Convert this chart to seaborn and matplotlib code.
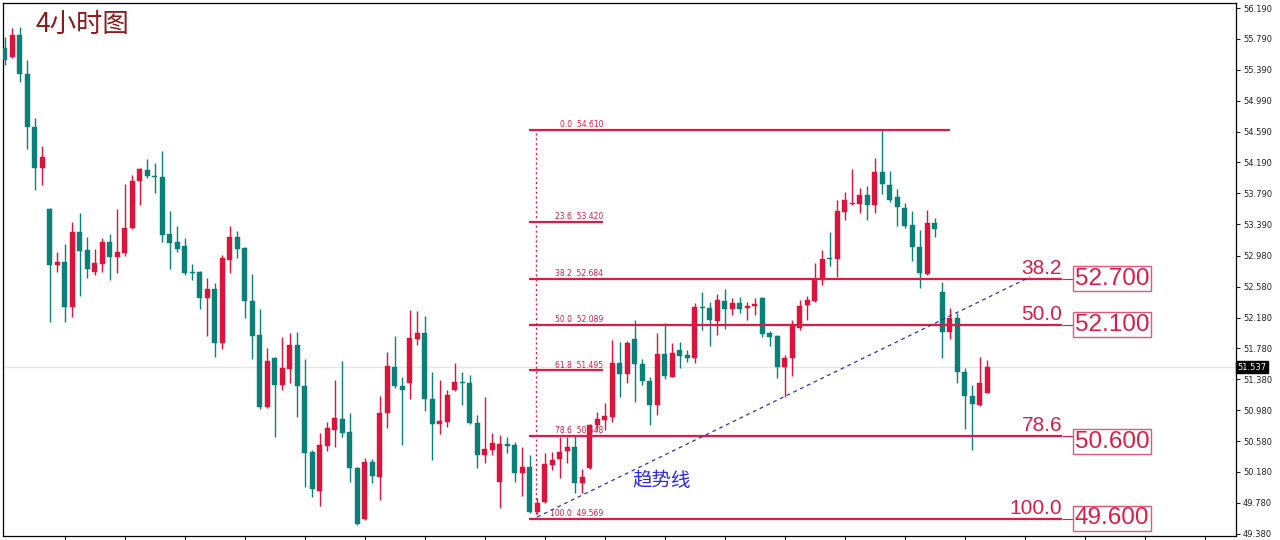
import numpy as np
import pandas as pd
import matplotlib
matplotlib.use("Agg")
import matplotlib.pyplot as plt
import seaborn as sns

sns.set_theme(style="white")
plt.rcParams['font.family'] = ['DejaVu Sans', 'Noto Sans CJK SC']

# ---------------- data (4h candles) ----------------
opens = [55.67,55.56,55.84,55.34,54.65,54.12,53.59,52.86,52.90,52.32,
         53.29,53.06,52.77,52.87,53.16,52.97,53.02,53.34,53.95,54.09,
         54.01,54.00,53.26,53.16,53.11,52.77,52.77,52.43,52.55,51.85,
         52.93,53.22,53.08,52.40,51.95,51.02,51.66,51.31,51.51,51.83,
         51.29,50.44,49.93,50.52,50.72,50.87,50.70,50.23,49.57,50.31,
         50.12,50.94,51.54,51.29,51.33,51.90,51.98,51.13,50.80,50.83,
         51.24,51.35,51.33,50.82,50.40,50.47,50.05,50.54,50.53,50.17,
         50.25,49.66,49.79,50.27,50.35,50.45,50.50,50.04,50.23,50.79,
         50.85,50.89,51.59,51.45,51.90,51.58,51.36,51.05,51.71,51.41,
         51.76,51.70,51.66,52.32,52.30,52.14,52.40,52.29,52.37,52.30,
         52.33,52.43,51.98,51.94,51.54,51.66,52.05,52.34,52.40,52.67,
         52.95,52.94,53.55,53.65,53.65,53.77,53.64,54.07,53.90,53.74,
         53.60,53.38,53.10,52.75,53.41,52.51,51.99,52.18,51.48,51.17,
         51.05,51.20]
highs = [55.82,55.93,55.94,55.52,54.77,54.40,53.60,53.03,53.13,53.42,
         53.54,53.22,53.07,53.21,53.26,53.59,53.91,54.03,54.12,54.24,
         54.18,54.34,53.56,53.37,53.21,52.87,52.78,52.69,52.63,52.99,
         53.37,53.30,53.09,52.75,52.29,51.79,51.67,51.93,51.98,51.99,
         51.64,50.47,50.69,50.83,51.37,51.62,50.94,50.24,50.36,50.35,
         51.17,51.73,51.94,51.41,52.28,52.27,52.20,51.48,51.37,51.24,
         51.59,51.48,51.44,50.92,51.15,50.69,50.66,50.63,50.57,50.50,
         50.40,49.84,50.43,50.44,50.63,50.63,50.65,50.22,50.80,50.96,
         51.07,51.89,51.86,51.88,52.15,51.64,51.41,51.98,52.11,51.85,
         51.86,51.76,52.37,52.51,52.38,52.49,52.55,52.43,52.45,52.38,
         52.43,52.45,52.01,51.96,51.70,52.15,52.41,52.46,52.89,53.06,
         53.29,53.70,53.81,54.11,53.86,53.89,54.25,54.61,54.08,53.85,
         53.67,53.56,53.32,53.57,53.47,52.64,52.30,52.24,51.53,51.31,
         51.67,51.63]
lows = [55.45,55.54,55.23,54.36,53.83,53.90,52.12,52.77,52.12,52.19,
        52.46,52.69,52.73,52.77,52.67,52.76,52.98,53.33,53.64,53.99,
        53.79,53.16,52.81,53.03,52.73,52.67,52.29,51.94,51.67,51.77,
        52.76,52.95,52.17,51.64,51.00,51.01,50.63,51.24,51.33,50.89,
        49.99,49.86,49.74,50.45,50.50,50.63,50.05,49.49,49.56,50.04,
        49.82,50.75,51.27,50.53,51.13,51.83,50.97,50.34,50.67,50.76,
        51.23,51.05,50.80,50.23,50.30,50.40,49.71,50.43,50.05,49.87,
        49.65,49.64,49.78,50.21,50.10,50.30,49.91,49.91,50.22,50.72,
        50.72,50.83,51.15,51.33,51.09,51.31,50.79,50.92,51.39,51.41,
        51.53,51.61,51.59,52.02,51.81,51.96,52.03,52.21,52.24,52.15,
        52.21,51.93,51.81,51.40,51.15,51.42,52.02,52.15,52.38,52.60,
        52.85,52.71,53.44,53.64,53.54,53.44,53.54,53.78,53.68,53.37,
        53.34,52.91,52.56,52.73,53.22,51.66,51.90,51.33,50.74,50.47,
        51.04,51.20]
closes = [55.52,55.84,55.34,54.65,54.12,54.26,52.86,52.90,52.32,53.29,
          53.04,52.81,52.89,53.16,52.97,53.03,53.34,53.95,54.11,54.01,
          54.00,53.25,53.15,53.07,52.76,52.76,52.43,52.55,51.85,52.95,
          53.22,53.07,52.40,51.94,51.02,51.62,51.31,51.53,51.83,51.29,
          50.43,49.96,50.53,50.75,50.88,50.69,50.23,49.51,50.31,50.13,
          50.94,51.55,51.29,51.24,51.92,51.98,51.13,50.80,50.84,51.18,
          51.35,51.33,50.82,50.40,50.48,50.56,50.54,50.52,50.17,50.25,
          49.66,49.78,50.28,50.34,50.44,50.50,50.04,50.12,50.79,50.87,
          50.91,51.59,51.45,51.85,51.58,51.36,51.05,51.71,51.42,51.72,
          51.68,51.66,52.32,52.30,52.15,52.41,52.29,52.37,52.29,52.33,
          52.36,51.97,51.93,51.54,51.66,52.10,52.33,52.41,52.68,52.94,
          52.94,53.56,53.70,53.67,53.77,53.64,54.07,53.91,53.70,53.61,
          53.37,53.10,52.76,53.41,53.33,51.99,52.18,51.48,51.17,51.06,
          51.33,51.537]

current_price = 51.537

fib_levels = [0.0, 23.6, 38.2, 50.0, 61.8, 78.6, 100.0]
fib_prices = [54.610, 53.420, 52.684, 52.089, 51.495, 50.648, 49.569]

target_levels = ["38.2", "50.0", "78.6", "100.0"]
target_prices = [52.684, 52.089, 50.648, 49.569]
target_labels = ["52.700", "52.100", "50.600", "49.600"]

trend_x = [71.0, 136.7]
trend_y = [49.597, 52.706]

ytick_vals = [56.19, 55.79, 55.39, 54.99, 54.59, 54.19, 53.79, 53.39, 52.98,
              52.58, 52.18, 51.78, 51.38, 50.98, 50.58, 50.18, 49.78, 49.38]
ytick_labels = ["56.190", "55.790", "55.390", "54.990", "54.590", "54.190",
                "53.790", "53.390", "52.980", "52.580", "52.180", "51.780",
                "51.380", "50.980", "50.580", "50.180", "49.780", "49.380"]

title_text = "4小时图"
trend_text = "趋势线"

# ---------------- styling ----------------
RED = "#dc143c"
TEAL = "#0a8078"
FIB = "#d81e46"

df = pd.DataFrame({"o": opens, "h": highs, "l": lows, "c": closes})
df["x"] = np.arange(len(df))
up = df["c"] >= df["o"]
cols = np.where(up, RED, TEAL)

fig = plt.figure(figsize=(12.8, 5.4), dpi=100)
fig.patch.set_facecolor("white")
ax = fig.add_axes([3/1280, 4/540, 1233/1280, 533/540])
ax.set_facecolor("white")

# current price line
ax.axhline(current_price, color="#e6e6e6", lw=1.0, zorder=0)

# candles
ax.vlines(df["x"], df["l"], df["h"], colors=cols, lw=1.0, zorder=2)
body_bottom = np.minimum(df["o"], df["c"])
body_h = np.maximum(np.abs(df["c"] - df["o"]), 0.013)
ax.bar(df["x"], body_h, bottom=body_bottom, width=0.68, color=cols,
       edgecolor=cols, linewidth=0.3, zorder=3)

# fibonacci retracement
fib_start = 69.95
fib_end = [126.0, 79.8, 141.0, 141.0, 79.8, 141.0, 141.0]
for lv, pr, xe in zip(fib_levels, fib_prices, fib_end):
    ax.hlines(pr, fib_start, xe, color=FIB, lw=1.6, zorder=4)
    ax.text(79.8, pr + 0.012, f"{lv:.1f}  {pr:.3f}", ha="right", va="bottom",
            fontsize=5.5, color=FIB, zorder=5)
ax.vlines(70.85, fib_prices[-1], fib_prices[0], colors=FIB, lw=1.0,
          linestyles=(0, (1.5, 2.0)), zorder=4)

# target labels
box_centers = [52.686, 52.090, 50.575, 49.580]
for lvs, pr, lab, bc in zip(target_levels, target_prices, target_labels, box_centers):
    ax.text(141.0, pr + 0.01, lvs, ha="right", va="bottom", fontsize=15,
            family="Liberation Sans", color=FIB, zorder=5)
    ax.hlines(pr, 141.0, 142.4, color=FIB, lw=0.8, zorder=4)
    ax.text(147.65, bc, lab, ha="center", va="center", fontsize=17.5,
            family="Liberation Sans", color=FIB, zorder=6,
            bbox=dict(boxstyle="square,pad=0.06", fc="white", ec="#e05a78", lw=1.0))

# trend line
sns.lineplot(x=trend_x, y=trend_y, ax=ax, color="#3030b0", lw=0.9,
             linestyle=(0, (3, 3)), zorder=5)
ax.text(87.6, 50.064, trend_text, ha="center", va="center", fontsize=14,
        color="#2a2ae6", family=["Noto Sans CJK SC", "DejaVu Sans"], zorder=6)

# title
fig.text(35/1280, 1 - 24.5/540, title_text, ha="left", va="center",
         fontsize=19, color="#8b1a1a", family=["Noto Sans CJK SC", "DejaVu Sans"])

# axes
ax.set_xlim(-0.23, 164.17)
ax.set_ylim(49.351, 56.255)
ax.yaxis.tick_right()
ax.set_yticks(ytick_vals)
ax.set_yticklabels(ytick_labels)
ax.tick_params(axis="y", direction="out", length=3, width=0.8, labelsize=6,
               labelcolor="#222222", color="#222222", pad=2, right=True, left=False)
ax.set_xticks(np.arange(8, 165, 8))
ax.set_xticklabels([])
ax.tick_params(axis="x", direction="out", length=4, width=0.8, color="#222222",
               bottom=True)
for s in ax.spines.values():
    s.set_color("black")
    s.set_linewidth(0.9)
ax.grid(False)

ax.text(1.0012, current_price, f"{current_price:.3f}", transform=ax.get_yaxis_transform(),
        ha="left", va="center", fontsize=6, color="white", zorder=10, clip_on=False,
        bbox=dict(boxstyle="square,pad=0.18", fc="black", ec="black"))

fig.savefig("out.png", dpi=100, facecolor="white")
